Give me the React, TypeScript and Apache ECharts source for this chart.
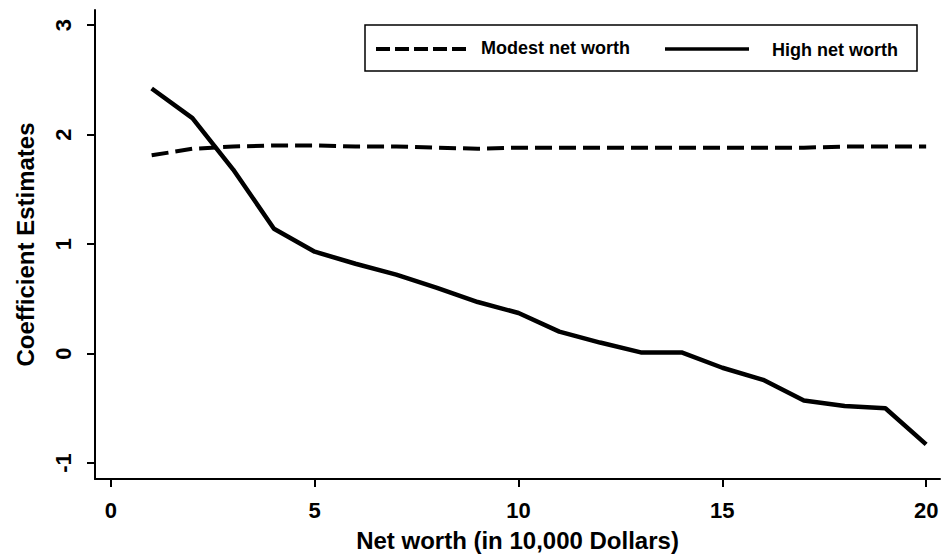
import React, { useEffect, useRef } from "react";
import * as echarts from "echarts";

const xValues = [1, 2, 3, 4, 5, 6, 7, 8, 9, 10, 11, 12, 13, 14, 15, 16, 17, 18, 19, 20];
const modestNetWorth = [1.81, 1.87, 1.89, 1.9, 1.9, 1.89, 1.89, 1.88, 1.87, 1.88, 1.88, 1.88, 1.88, 1.88, 1.88, 1.88, 1.88, 1.89, 1.89, 1.89];
const highNetWorth = [2.42, 2.15, 1.68, 1.14, 0.93, 0.82, 0.72, 0.6, 0.47, 0.37, 0.2, 0.1, 0.01, 0.01, -0.13, -0.24, -0.43, -0.48, -0.5, -0.83];
const xTicks = [0, 5, 10, 15, 20];
const yTicks = [-1, 0, 1, 2, 3];
const seriesNames = ["Modest net worth", "High net worth"];
const xTitle = "Net worth (in 10,000 Dollars)";
const yTitle = "Coefficient Estimates";

export default function App() {
  const ref = useRef<HTMLDivElement>(null);
  useEffect(() => {
    if (!ref.current) return;
    const chart = echarts.init(ref.current, undefined, { renderer: "svg" });
    const font = "Liberation Sans, Arial, Helvetica, sans-serif";
    const legendY = 48;
    chart.setOption({
      animation: false,
      backgroundColor: "#fff",
      textStyle: { fontFamily: font },
      grid: { left: 95, right: 2, top: 10, bottom: 77, containLabel: false },
      graphic: [
        {
          type: "rect",
          shape: { x: 365, y: 25, width: 552, height: 46 },
          style: { fill: "#fff", stroke: "#000", lineWidth: 1.5 },
          z: 100,
        },
        {
          type: "line",
          shape: { x1: 376, y1: legendY + 1, x2: 468, y2: legendY + 1 },
          style: { stroke: "#000", lineWidth: 4, lineDash: [14, 5] },
          z: 101,
        },
        {
          type: "text",
          x: 481,
          y: legendY,
          style: { text: seriesNames[0], fontSize: 18, fontWeight: "bold", fill: "#000", fontFamily: font, verticalAlign: "middle", align: "left" },
          z: 101,
        },
        {
          type: "line",
          shape: { x1: 665, y1: legendY + 1, x2: 749, y2: legendY + 1 },
          style: { stroke: "#000", lineWidth: 3.5 },
          z: 101,
        },
        {
          type: "text",
          x: 772,
          y: legendY + 2,
          style: { text: seriesNames[1], fontSize: 18, fontWeight: "bold", fill: "#000", fontFamily: font, verticalAlign: "middle", align: "left" },
          z: 101,
        },
      ],
      xAxis: {
        type: "value",
        min: -0.39,
        max: 20.34,
        name: xTitle,
        nameLocation: "middle",
        nameGap: 49,
        nameTextStyle: { fontSize: 24, color: "#000", fontFamily: font, fontWeight: "bold" },
        axisLine: { show: true, onZero: false, lineStyle: { color: "#000", width: 2 } },
        axisTick: { show: true, customValues: xTicks, length: 8, lineStyle: { color: "#000", width: 2 } },
        axisLabel: { customValues: xTicks, fontSize: 22, fontWeight: "bold", color: "#000", margin: 20, fontFamily: font },
        splitLine: { show: false },
      },
      yAxis: {
        type: "value",
        min: -1.146,
        max: 3.137,
        name: yTitle,
        nameLocation: "middle",
        nameGap: 58,
        nameTextStyle: { fontSize: 24, color: "#000", fontFamily: font, fontWeight: "bold" },
        axisLine: { show: true, onZero: false, lineStyle: { color: "#000", width: 2 } },
        axisTick: { show: true, customValues: yTicks, length: 8, lineStyle: { color: "#000", width: 2 } },
        axisLabel: { customValues: yTicks, rotate: 90, fontSize: 22, fontWeight: "bold", color: "#000", margin: 21, fontFamily: font },
        splitLine: { show: false },
      },
      series: [
        {
          name: seriesNames[0],
          type: "line",
          data: xValues.map((x, i) => [x, modestNetWorth[i]]),
          symbol: "none",
          lineStyle: { color: "#000", width: 4, type: [17, 7] },
          itemStyle: { color: "#000" },
        },
        {
          name: seriesNames[1],
          type: "line",
          data: xValues.map((x, i) => [x, highNetWorth[i]]),
          symbol: "none",
          lineStyle: { color: "#000", width: 4.5, type: "solid" },
          itemStyle: { color: "#000" },
        },
      ],
    });
    return () => chart.dispose();
  }, []);
  return <div ref={ref} style={{ width: 942, height: 557, position: "absolute", left: 0, top: 0 }} />;
}
